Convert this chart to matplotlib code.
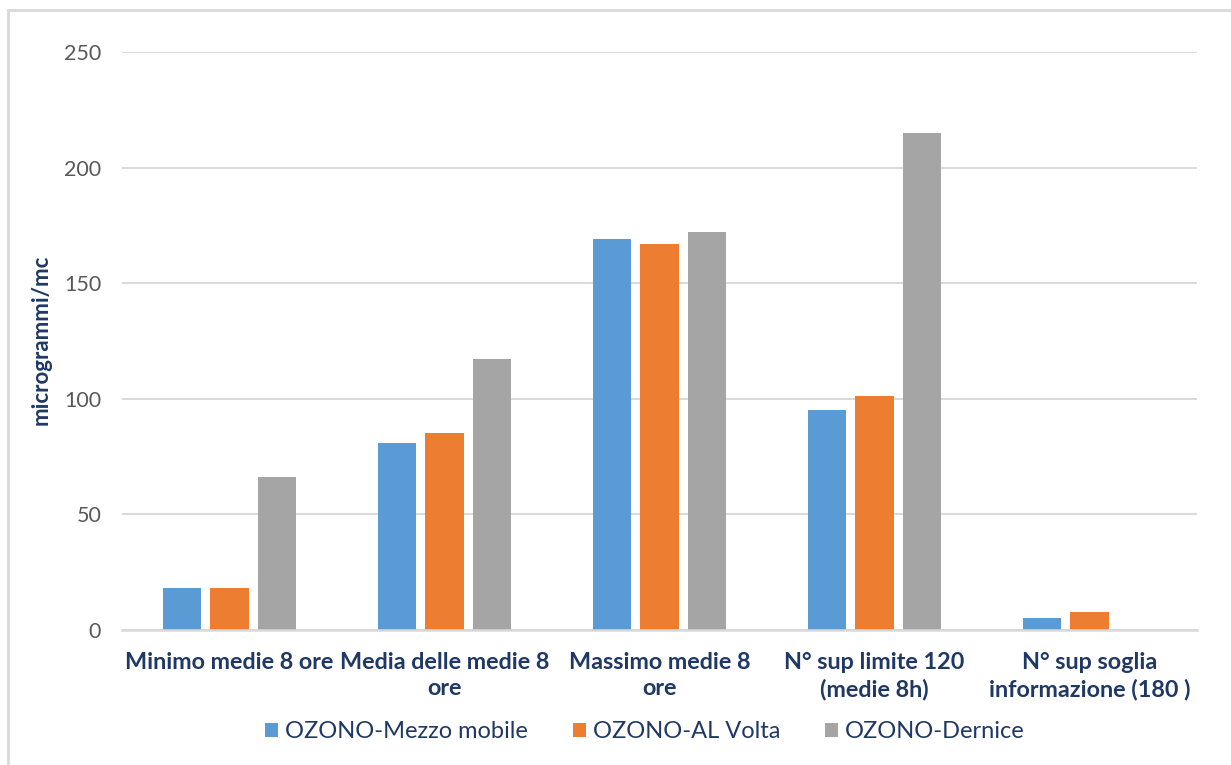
import matplotlib
matplotlib.use("Agg")
import matplotlib.pyplot as plt
import numpy as np
from matplotlib.lines import Line2D
from matplotlib.patches import Patch

plt.rcParams['font.family'] = ['Lato', 'DejaVu Sans']

categories = ["Minimo medie 8 ore", "Media delle medie 8\nore", "Massimo medie 8\nore",
              "N° sup limite 120\n(medie 8h)", "N° sup soglia\ninformazione (180 )"]
series_names = ["OZONO-Mezzo mobile", "OZONO-AL Volta", "OZONO-Dernice"]
mezzo_mobile = [18, 81, 169, 95, 5]
al_volta = [18, 85, 167, 101, 8]
dernice = [66, 117, 172, 215, 0]
yticks = [0, 50, 100, 150, 200, 250]

colors = ["#5B9BD5", "#ED7D31", "#A5A5A5"]
navy = "#1F3864"

fig = plt.figure(figsize=(12.31, 7.65), dpi=100)
ax = fig.add_axes([122/1231, 1-630/765, (1197-122)/1231, (630-52)/765])

x = np.arange(len(categories))
width = 0.178
step = 0.222
for i, (vals, c) in enumerate(zip([mezzo_mobile, al_volta, dernice], colors)):
    ax.bar(x + (i-1)*step, vals, width=width, color=c, zorder=3, label=series_names[i])

ax.set_xlim(-0.5, len(categories)-0.5)
ax.set_ylim(0, 250)
ax.set_yticks(yticks)
ax.grid(axis='y', color='#D9D9D9', linewidth=1.4, zorder=0)
for s in ['top', 'right', 'left']:
    ax.spines[s].set_visible(False)
ax.spines['bottom'].set_color('#D9D9D9')
ax.spines['bottom'].set_linewidth(1.8)
ax.spines['bottom'].set_zorder(4)
ax.tick_params(axis='y', length=0, pad=15, labelsize=15.5, labelcolor='#595959')
ax.tick_params(axis='x', length=0, pad=16)
ax.set_xticks(x)
ax.set_xticklabels(categories, fontsize=16.8, fontweight='bold', color=navy, linespacing=1.3)
ax.set_ylabel("microgrammi/mc", fontsize=16, fontweight='bold', color=navy)
ax.yaxis.set_label_coords((52-122)/(1197-122), (630-340)/578)

handles = [Patch(facecolor=c, edgecolor='none') for c in colors]
fig.legend(handles, series_names, loc='center', bbox_to_anchor=(645/1231, 1-732/765),
           ncol=3, frameon=False, fontsize=17, handlelength=0.55, handleheight=0.55,
           handletextpad=0.3, columnspacing=1.9, labelcolor=navy)

# outer frame (left and top visible)
fig.add_artist(Line2D([8/1231, 8/1231], [0, 1-10/765], color='#D9D9D9', linewidth=2, transform=fig.transFigure))
fig.add_artist(Line2D([8/1231, 1], [1-10/765, 1-10/765], color='#D9D9D9', linewidth=2, transform=fig.transFigure))

fig.savefig("out.png", dpi=100)
